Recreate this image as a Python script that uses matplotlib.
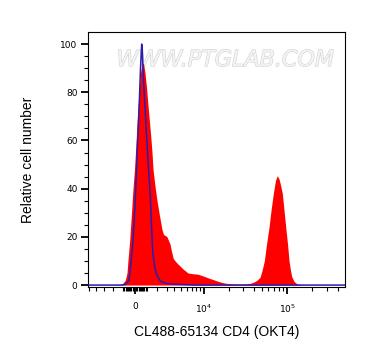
import matplotlib
matplotlib.use("Agg")
import matplotlib.pyplot as plt
import matplotlib.patheffects as pe
from matplotlib.ticker import FixedLocator, FixedFormatter, NullFormatter

# ---- data (fluorescence intensity, relative cell number) ----
cd4_x = [-5000, -1773, -1210, -1031, -828, -680, -594, -449, -296, -169, -42,
         127, 279, 466, 594, 723, 854, 986, 1093, 1228, 1366, 1487, 1581, 1773,
         1971, 2174, 2352, 2492, 2657, 2884, 3060, 3241, 3428, 3621, 3860, 4165,
         4531, 5328, 6225, 7241, 8394, 9704, 11197, 12904, 14443, 16154, 18065,
         21945, 27388, 33227, 37098, 40296, 43769, 47536, 50225, 53510, 56856,
         60909, 64347, 68553, 72820, 76535, 80188, 83565, 87802, 91977, 96398,
         101279, 105547, 109967, 113651, 121081, 130414, 142786, 163846, 491000]
cd4_y = [0, 0, 0.2, 0.8, 2, 5, 10.5, 18.5, 30, 40, 48,
         63, 76, 88, 92, 92, 88, 82, 76, 69, 62, 55, 48, 41,
         35, 30, 26, 23, 21, 20.5, 20, 18.5, 17, 14, 11, 9.8,
         8.7, 6.7, 5, 4.7, 4.5, 3.8, 3, 2.3, 1.7, 1.2, 0.8,
         0.5, 0.4, 0.5, 0.8, 1.3, 2, 3.2, 6, 10, 17,
         24, 31, 38, 43.5, 45.4, 44, 41.5, 38, 31, 24,
         17, 10, 6, 3.5, 1.5, 0.6, 0.2, 0, 0]

iso_x = [-5000, -1301, -854, -723, -508, -313, -169, 0, 127, 253, 364, 466,
         568, 637, 723, 898, 1075, 1256, 1347, 1440, 1552, 1676, 1773, 1921,
         2102, 2384, 2827, 3686, 5674, 7685, 491000]
iso_y = [0, 0, 0.2, 0.8, 2, 10.5, 18.5, 33, 48, 63, 76, 90,
         100, 95, 85, 70, 55, 42, 35, 25, 14, 9.5, 7, 4.5,
         3, 1.5, 0.8, 0.4, 0.2, 0, 0]

major_ticks = [0, 1e4, 1e5]
major_labels = ["0", "$10^4$", "$10^5$"]
minor_ticks = ([-5000, -4000, -3000, -2000, -1000]
               + [-900, -800, -700, -600, -500, -400, -300, -200, -100]
               + [100, 200, 300, 400, 500, 600, 700, 800, 900]
               + [1000, 2000, 3000, 4000, 5000, 6000, 7000, 8000, 9000]
               + [20000, 30000, 40000, 50000, 60000, 70000, 80000, 90000]
               + [200000, 300000, 400000])
y_major = [0, 20, 40, 60, 80, 100]
y_minor = [5, 10, 15, 25, 30, 35, 45, 50, 55, 65, 70, 75, 85, 90, 95]

xlabel = "CL488-65134 CD4 (OKT4)"
ylabel = "Relative cell number"
watermark = "WWW.PTGLAB.COM"

plt.rcParams["mathtext.default"] = "regular"

fig = plt.figure(figsize=(3.65, 3.57), dpi=100)
ax = fig.add_axes([88 / 365, 1 - 287 / 357, 257 / 365, 255 / 357])

ax.set_xscale("asinh", linear_width=3070)
ax.set_xlim(-5160, 491000)
ax.set_ylim(-0.8, 105)

ax.text(0.535, 0.89, watermark, transform=ax.transAxes, ha="center", va="center",
        fontsize=16, family="DejaVu Sans", style="italic", color="#f4f4f4",
        zorder=1,
        path_effects=[pe.withStroke(linewidth=0.8, foreground="#d0d0d0")])

ax.fill_between(cd4_x, cd4_y, 0, color="#ff0000", lw=0, zorder=2)
ax.plot(iso_x, iso_y, color="#2b1cb0", lw=1.1, zorder=3)

ax.xaxis.set_major_locator(FixedLocator(major_ticks))
ax.xaxis.set_major_formatter(FixedFormatter(major_labels))
ax.xaxis.set_minor_locator(FixedLocator(minor_ticks))
ax.xaxis.set_minor_formatter(NullFormatter())
ax.yaxis.set_major_locator(FixedLocator(y_major))
ax.yaxis.set_minor_locator(FixedLocator(y_minor))

ax.tick_params(which="major", length=5, width=1.3, labelsize=6.5)
ax.tick_params(which="minor", length=3, width=0.8)
ax.tick_params(axis="x", which="major", pad=6)
ax.tick_params(axis="y", which="major", pad=2.5)
for lbl in ax.get_xticklabels() + ax.get_yticklabels():
    lbl.set_family("DejaVu Sans")

for s in ax.spines.values():
    s.set_linewidth(0.8)

ax.set_xlabel(xlabel, fontsize=10, family="Liberation Sans")
ax.set_ylabel(ylabel, fontsize=10, family="Liberation Sans")
ax.xaxis.set_label_coords(0.5, -(332 - 287) / 255)
ax.xaxis.label.set_va("center")
ax.yaxis.set_label_coords(-(88 - 28) / 257, 0.5)
ax.yaxis.label.set_va("center")

fig.savefig("out.png", dpi=100)
